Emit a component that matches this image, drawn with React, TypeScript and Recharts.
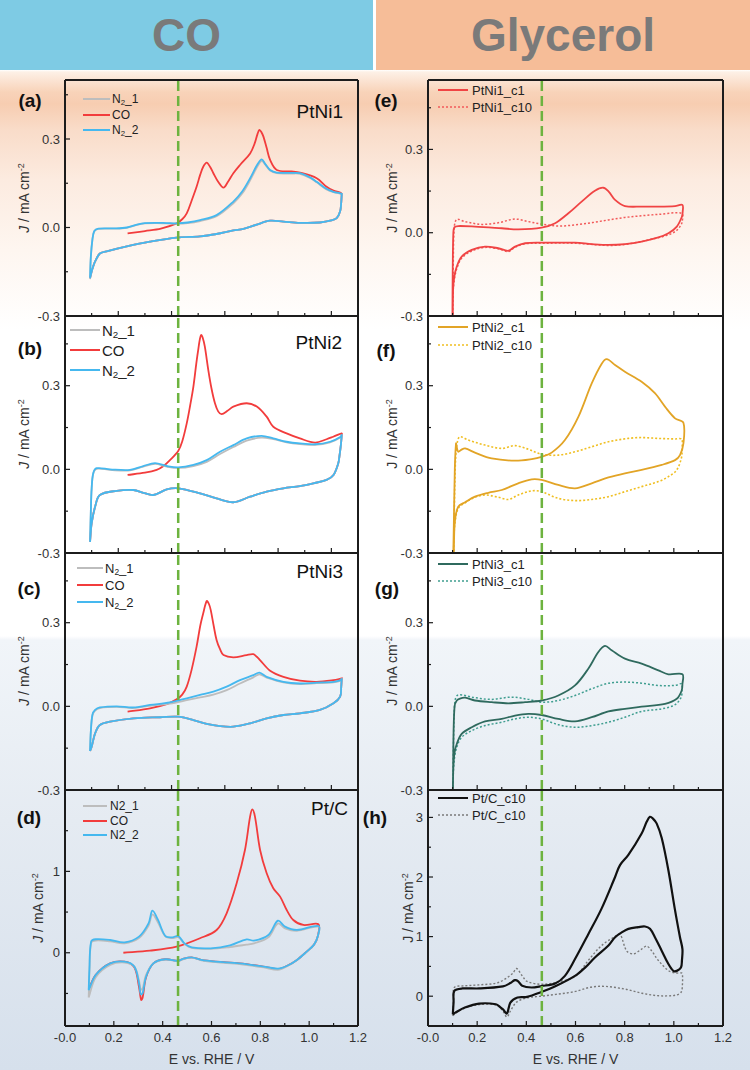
import React from "react";
import { LineChart, Line, XAxis, YAxis, ReferenceLine } from "recharts";

type Pt = [number, number];

// ---- axis ticks ----
const eTicksCO = [0.1, 0.2, 0.3, 0.4, 0.5, 0.6, 0.7, 0.8, 0.9, 1.0];
const eTicksGly = [0.1, 0.2, 0.3, 0.4, 0.5, 0.6, 0.7, 0.8, 0.9, 1.0, 1.1];
const eTicksBottom = [0, 0.1, 0.2, 0.3, 0.4, 0.5, 0.6, 0.7, 0.8, 0.9, 1.0, 1.1, 1.2];
const eLabels = [0, 0.2, 0.4, 0.6, 0.8, 1.0, 1.2];
const jTicks = [-0.3, -0.15, 0, 0.15, 0.3, 0.45];
const jLabels = [-0.3, 0, 0.3];
const jTicksPtC = [-0.5, 0, 0.5, 1, 1.5];
const jLabelsPtC = [0, 1];
const jTicksPtCGly = [0, 0.5, 1, 1.5, 2, 2.5, 3];
const jLabelsPtCGly = [0, 1, 2, 3];

// potential of the green marker (V); panels a-c run to 1.1 V
const markCO = 0.425;
const markE = 0.463;

// ---- (a) PtNi1, CO stripping ----
const aN21: Pt[] = [[0.094,-0.175],[0.097,-0.1],[0.103,-0.04],[0.11,-0.013],[0.125,-0.005],[0.18,-0.004],[0.232,-0.001],[0.27,0.009],[0.3,0.014],[0.344,0.015],[0.38,0.014],[0.42,0.013],[0.46,0.015],[0.507,0.022],[0.569,0.038],[0.632,0.082],[0.665,0.115],[0.695,0.16],[0.72,0.203],[0.738,0.226],[0.752,0.213],[0.77,0.193],[0.795,0.184],[0.85,0.183],[0.882,0.182],[0.92,0.168],[0.945,0.153],[0.98,0.13],[1.008,0.12],[1.033,0.115],[1.039,0.114]];
const aCO: Pt[] = [[0.235,-0.02],[0.3,-0.012],[0.36,-0.004],[0.419,0.014],[0.44,0.028],[0.457,0.048],[0.475,0.09],[0.494,0.138],[0.508,0.18],[0.519,0.206],[0.532,0.22],[0.545,0.205],[0.557,0.184],[0.575,0.155],[0.595,0.135],[0.612,0.155],[0.632,0.184],[0.657,0.212],[0.695,0.251],[0.712,0.285],[0.722,0.315],[0.73,0.331],[0.738,0.322],[0.745,0.308],[0.757,0.27],[0.77,0.229],[0.795,0.195],[0.85,0.19],[0.882,0.186],[0.945,0.167],[0.982,0.138],[1.008,0.125],[1.033,0.118],[1.039,0.114]];
const aN22: Pt[] = [[0.094,-0.17],[0.097,-0.1],[0.103,-0.04],[0.11,-0.012],[0.125,-0.004],[0.18,-0.003],[0.232,0.0],[0.27,0.01],[0.3,0.015],[0.344,0.016],[0.38,0.015],[0.42,0.014],[0.46,0.017],[0.507,0.025],[0.569,0.042],[0.632,0.088],[0.665,0.122],[0.695,0.167],[0.72,0.21],[0.738,0.231],[0.752,0.215],[0.77,0.195],[0.795,0.186],[0.85,0.185],[0.882,0.184],[0.92,0.17],[0.945,0.155],[0.98,0.132],[1.008,0.121],[1.033,0.116],[1.039,0.114]];
const aBack: Pt[] = [[1.039,0.114],[1.037,0.085],[1.033,0.055],[1.02,0.032],[1.0,0.024],[0.957,0.017],[0.882,0.016],[0.82,0.02],[0.77,0.023],[0.72,0.01],[0.67,-0.005],[0.632,-0.01],[0.569,-0.022],[0.507,-0.03],[0.419,-0.034],[0.319,-0.048],[0.232,-0.064],[0.16,-0.08],[0.131,-0.088],[0.113,-0.115],[0.103,-0.14],[0.097,-0.16],[0.094,-0.172]];

// ---- (b) PtNi2 ----
const bN21: Pt[] = [[0.094,-0.26],[0.097,-0.15],[0.1,-0.07],[0.106,-0.016],[0.119,0.002],[0.169,-0.002],[0.244,-0.004],[0.294,0.01],[0.338,0.02],[0.382,0.01],[0.425,0.005],[0.482,0.012],[0.532,0.027],[0.582,0.055],[0.632,0.08],[0.682,0.103],[0.738,0.114],[0.782,0.108],[0.832,0.097],[0.882,0.091],[0.939,0.088],[0.995,0.097],[1.035,0.115],[1.039,0.125]];
const bCO: Pt[] = [[0.235,-0.02],[0.3,-0.012],[0.344,-0.002],[0.37,0.012],[0.394,0.033],[0.425,0.066],[0.44,0.1],[0.457,0.165],[0.47,0.23],[0.482,0.297],[0.493,0.38],[0.5,0.428],[0.506,0.465],[0.511,0.482],[0.517,0.472],[0.525,0.44],[0.538,0.356],[0.55,0.29],[0.563,0.237],[0.575,0.208],[0.588,0.198],[0.61,0.21],[0.632,0.225],[0.682,0.237],[0.72,0.225],[0.757,0.189],[0.782,0.153],[0.832,0.129],[0.882,0.111],[0.939,0.096],[0.982,0.108],[1.007,0.117],[1.039,0.129]];
const bN22: Pt[] = [[0.094,-0.26],[0.097,-0.15],[0.1,-0.07],[0.106,-0.014],[0.119,0.004],[0.169,0.0],[0.244,-0.002],[0.294,0.012],[0.338,0.022],[0.382,0.012],[0.425,0.007],[0.482,0.016],[0.532,0.033],[0.582,0.063],[0.632,0.087],[0.682,0.111],[0.738,0.12],[0.782,0.111],[0.832,0.099],[0.882,0.093],[0.939,0.09],[0.995,0.099],[1.035,0.117],[1.039,0.125]];
const bBack: Pt[] = [[1.039,0.125],[1.036,0.09],[1.03,0.045],[1.026,0.022],[1.008,-0.02],[0.982,-0.038],[0.932,-0.05],[0.882,-0.06],[0.82,-0.068],[0.757,-0.08],[0.695,-0.098],[0.632,-0.118],[0.569,-0.104],[0.507,-0.086],[0.425,-0.068],[0.382,-0.072],[0.332,-0.092],[0.294,-0.084],[0.257,-0.074],[0.194,-0.077],[0.131,-0.092],[0.113,-0.134],[0.1,-0.194],[0.094,-0.26]];

// ---- (c) PtNi3 ----
const cN21: Pt[] = [[0.094,-0.16],[0.097,-0.09],[0.103,-0.032],[0.113,-0.015],[0.131,-0.006],[0.194,-0.002],[0.257,-0.006],[0.319,0.002],[0.394,0.01],[0.457,0.022],[0.507,0.032],[0.557,0.042],[0.607,0.058],[0.657,0.082],[0.707,0.104],[0.73,0.115],[0.757,0.103],[0.82,0.086],[0.882,0.08],[0.945,0.083],[1.008,0.086],[1.035,0.092],[1.039,0.1]];
const cCO: Pt[] = [[0.235,-0.019],[0.319,-0.007],[0.382,0.008],[0.419,0.025],[0.44,0.042],[0.457,0.071],[0.475,0.13],[0.494,0.214],[0.508,0.29],[0.519,0.334],[0.532,0.378],[0.54,0.368],[0.547,0.346],[0.558,0.29],[0.569,0.238],[0.582,0.205],[0.595,0.184],[0.632,0.176],[0.682,0.184],[0.707,0.187],[0.72,0.178],[0.732,0.166],[0.77,0.128],[0.82,0.106],[0.882,0.092],[0.945,0.088],[1.008,0.094],[1.039,0.1]];
const cN22: Pt[] = [[0.094,-0.16],[0.097,-0.09],[0.103,-0.03],[0.113,-0.013],[0.131,-0.004],[0.194,0.0],[0.257,-0.004],[0.319,0.005],[0.394,0.014],[0.457,0.029],[0.507,0.041],[0.557,0.053],[0.607,0.071],[0.657,0.094],[0.707,0.112],[0.73,0.121],[0.757,0.106],[0.82,0.088],[0.882,0.082],[0.945,0.085],[1.008,0.088],[1.035,0.094],[1.039,0.1]];
const cBack: Pt[] = [[1.039,0.1],[1.037,0.07],[1.033,0.035],[1.008,0.011],[0.957,-0.013],[0.882,-0.025],[0.82,-0.031],[0.757,-0.043],[0.695,-0.061],[0.632,-0.073],[0.582,-0.071],[0.532,-0.063],[0.482,-0.049],[0.425,-0.037],[0.357,-0.039],[0.257,-0.043],[0.169,-0.055],[0.131,-0.067],[0.113,-0.097],[0.1,-0.145],[0.094,-0.16]];

// ---- (d) Pt/C ----
const dN21: Pt[] = [[0.097,-0.55],[0.1,-0.25],[0.107,0.12],[0.126,0.15],[0.185,0.14],[0.244,0.115],[0.303,0.18],[0.342,0.33],[0.358,0.47],[0.381,0.37],[0.411,0.2],[0.44,0.18],[0.464,0.19],[0.489,0.11],[0.519,0.06],[0.597,0.048],[0.676,0.07],[0.744,0.1],[0.774,0.115],[0.833,0.19],[0.872,0.36],[0.901,0.3],[0.95,0.27],[1.039,0.32],[1.035,0.2],[1.02,0.1],[0.99,0.01],[0.95,-0.09],[0.91,-0.165],[0.872,-0.21],[0.814,-0.18],[0.715,-0.14],[0.617,-0.115],[0.558,-0.092],[0.518,-0.06],[0.479,-0.085],[0.464,-0.105],[0.411,-0.085],[0.362,-0.13],[0.332,-0.27],[0.318,-0.44],[0.31,-0.45],[0.303,-0.34],[0.284,-0.17],[0.244,-0.12],[0.185,-0.15],[0.126,-0.3],[0.097,-0.55]];
const dCO: Pt[] = [[0.239,0.0],[0.348,0.026],[0.457,0.075],[0.553,0.178],[0.621,0.28],[0.662,0.485],[0.703,0.853],[0.737,1.263],[0.758,1.672],[0.767,1.762],[0.778,1.672],[0.799,1.263],[0.826,0.976],[0.853,0.792],[0.881,0.69],[0.908,0.526],[0.935,0.403],[0.976,0.342],[1.038,0.35],[1.035,0.2],[1.02,0.1],[0.99,0.014],[0.95,-0.088],[0.91,-0.16],[0.872,-0.2],[0.814,-0.17],[0.715,-0.13],[0.617,-0.109],[0.558,-0.088],[0.518,-0.056],[0.479,-0.08],[0.464,-0.1],[0.411,-0.08],[0.362,-0.13],[0.332,-0.3],[0.318,-0.55],[0.312,-0.58],[0.303,-0.42],[0.284,-0.18],[0.244,-0.11],[0.185,-0.13],[0.126,-0.27],[0.097,-0.45]];
const dN22: Pt[] = [[0.097,-0.46],[0.1,-0.2],[0.107,0.137],[0.126,0.166],[0.185,0.157],[0.244,0.128],[0.303,0.198],[0.342,0.361],[0.358,0.517],[0.381,0.403],[0.411,0.206],[0.44,0.19],[0.464,0.206],[0.489,0.116],[0.519,0.067],[0.597,0.055],[0.676,0.091],[0.744,0.165],[0.774,0.149],[0.833,0.219],[0.872,0.395],[0.901,0.321],[0.95,0.28],[1.039,0.329],[1.035,0.2],[1.02,0.1],[0.99,0.014],[0.95,-0.088],[0.91,-0.16],[0.872,-0.195],[0.814,-0.17],[0.715,-0.13],[0.617,-0.109],[0.558,-0.088],[0.518,-0.056],[0.479,-0.08],[0.464,-0.1],[0.411,-0.08],[0.362,-0.13],[0.332,-0.294],[0.318,-0.498],[0.31,-0.51],[0.303,-0.375],[0.284,-0.17],[0.244,-0.109],[0.185,-0.13],[0.126,-0.272],[0.097,-0.46]];

// ---- (e) PtNi1, glycerol ----
const eC1: Pt[] = [[0.099,-0.45],[0.1,-0.2],[0.103,0.0],[0.108,0.02],[0.123,0.024],[0.191,0.022],[0.3,0.016],[0.367,0.012],[0.462,0.018],[0.517,0.034],[0.571,0.07],[0.625,0.112],[0.679,0.151],[0.713,0.162],[0.735,0.148],[0.761,0.118],[0.801,0.096],[0.869,0.094],[0.94,0.094],[1.005,0.096],[1.035,0.1],[1.036,0.075],[1.033,0.058],[1.012,0.022],[0.978,-0.002],[0.937,-0.017],[0.869,-0.032],[0.801,-0.041],[0.734,-0.044],[0.666,-0.041],[0.598,-0.036],[0.462,-0.036],[0.395,-0.038],[0.354,-0.05],[0.327,-0.065],[0.286,-0.056],[0.232,-0.05],[0.178,-0.062],[0.137,-0.086],[0.117,-0.122],[0.107,-0.158],[0.102,-0.206],[0.1,-0.45]];
const eC10: Pt[] = [[0.1,-0.45],[0.103,-0.1],[0.107,0.02],[0.117,0.048],[0.15,0.04],[0.218,0.03],[0.286,0.036],[0.354,0.049],[0.408,0.04],[0.462,0.031],[0.53,0.024],[0.598,0.028],[0.666,0.036],[0.734,0.046],[0.801,0.055],[0.869,0.061],[0.937,0.066],[1.032,0.07],[1.034,0.04],[1.025,0.022],[1.005,0.004],[0.964,-0.012],[0.9,-0.025],[0.869,-0.032],[0.801,-0.042],[0.734,-0.046],[0.598,-0.038],[0.462,-0.038],[0.395,-0.04],[0.354,-0.052],[0.327,-0.068],[0.286,-0.058],[0.232,-0.053],[0.178,-0.066],[0.137,-0.092],[0.117,-0.13],[0.107,-0.17],[0.102,-0.22],[0.1,-0.45]];

// ---- (f) PtNi2 ----
const fC1: Pt[] = [[0.1,-0.45],[0.105,-0.2],[0.109,0.0],[0.114,0.093],[0.117,0.08],[0.123,0.063],[0.135,0.07],[0.151,0.075],[0.191,0.06],[0.259,0.039],[0.354,0.031],[0.422,0.037],[0.462,0.045],[0.503,0.06],[0.557,0.105],[0.612,0.189],[0.666,0.308],[0.706,0.378],[0.727,0.395],[0.761,0.374],[0.801,0.35],[0.869,0.314],[0.923,0.273],[0.964,0.225],[1.005,0.183],[1.039,0.167],[1.039,0.093],[1.025,0.051],[1.005,0.033],[0.951,0.016],[0.869,-0.002],[0.801,-0.014],[0.734,-0.029],[0.666,-0.05],[0.598,-0.068],[0.53,-0.056],[0.462,-0.038],[0.422,-0.036],[0.367,-0.05],[0.3,-0.074],[0.245,-0.084],[0.191,-0.098],[0.151,-0.118],[0.123,-0.134],[0.11,-0.182],[0.106,-0.253],[0.103,-0.45]];
const fC10: Pt[] = [[0.103,-0.45],[0.108,-0.1],[0.113,0.05],[0.12,0.1],[0.13,0.117],[0.164,0.105],[0.232,0.087],[0.3,0.075],[0.354,0.085],[0.408,0.072],[0.462,0.054],[0.53,0.051],[0.598,0.063],[0.666,0.081],[0.734,0.099],[0.815,0.111],[0.869,0.114],[0.937,0.111],[1.005,0.109],[1.032,0.108],[1.033,0.07],[1.032,0.045],[1.012,-0.002],[0.978,-0.026],[0.937,-0.044],[0.869,-0.062],[0.801,-0.08],[0.734,-0.098],[0.666,-0.108],[0.598,-0.112],[0.53,-0.104],[0.462,-0.08],[0.422,-0.077],[0.367,-0.092],[0.327,-0.108],[0.286,-0.1],[0.232,-0.092],[0.191,-0.1],[0.151,-0.12],[0.123,-0.14],[0.11,-0.19],[0.105,-0.26],[0.103,-0.45]];

// ---- (g) PtNi3 ----
const gC1: Pt[] = [[0.1,-0.45],[0.103,-0.15],[0.108,0.0],[0.117,0.021],[0.13,0.028],[0.151,0.031],[0.191,0.021],[0.259,0.015],[0.327,0.011],[0.395,0.015],[0.462,0.021],[0.53,0.039],[0.598,0.075],[0.652,0.135],[0.693,0.195],[0.72,0.217],[0.747,0.201],[0.801,0.171],[0.869,0.153],[0.937,0.129],[0.978,0.115],[1.035,0.115],[1.035,0.08],[1.032,0.057],[1.012,0.027],[0.964,0.009],[0.869,-0.001],[0.801,-0.009],[0.734,-0.018],[0.666,-0.039],[0.598,-0.054],[0.53,-0.045],[0.462,-0.031],[0.408,-0.027],[0.354,-0.033],[0.3,-0.045],[0.232,-0.054],[0.178,-0.075],[0.137,-0.099],[0.117,-0.135],[0.107,-0.171],[0.102,-0.25],[0.1,-0.45]];
const gC10: Pt[] = [[0.1,-0.45],[0.104,-0.12],[0.11,0.02],[0.123,0.041],[0.191,0.031],[0.259,0.025],[0.34,0.033],[0.408,0.025],[0.462,0.015],[0.53,0.021],[0.598,0.039],[0.666,0.063],[0.734,0.083],[0.801,0.087],[0.869,0.083],[0.937,0.075],[1.005,0.075],[1.032,0.081],[1.033,0.06],[1.03,0.033],[1.005,0.006],[0.951,-0.009],[0.869,-0.018],[0.801,-0.039],[0.734,-0.057],[0.666,-0.069],[0.598,-0.075],[0.53,-0.066],[0.462,-0.045],[0.408,-0.039],[0.354,-0.045],[0.3,-0.057],[0.232,-0.069],[0.178,-0.087],[0.137,-0.111],[0.117,-0.147],[0.107,-0.19],[0.102,-0.27],[0.1,-0.45]];

// ---- (h) Pt/C ----
const hC1: Pt[] = [[0.101,-0.304],[0.104,-0.1],[0.107,0.09],[0.14,0.13],[0.208,0.13],[0.305,0.165],[0.335,0.22],[0.353,0.27],[0.367,0.25],[0.383,0.174],[0.421,0.146],[0.462,0.17],[0.517,0.213],[0.557,0.342],[0.598,0.623],[0.652,1.04],[0.706,1.47],[0.761,2.0],[0.781,2.2],[0.815,2.37],[0.869,2.73],[0.89,2.93],[0.903,3.01],[0.915,2.98],[0.93,2.9],[0.951,2.65],[0.978,2.11],[1.005,1.44],[1.025,0.99],[1.035,0.79],[1.033,0.6],[1.029,0.48],[1.012,0.425],[0.998,0.425],[0.978,0.54],[0.951,0.76],[0.923,0.99],[0.903,1.13],[0.883,1.17],[0.856,1.16],[0.815,1.13],[0.788,1.07],[0.761,0.99],[0.734,0.85],[0.679,0.65],[0.639,0.48],[0.598,0.34],[0.52,0.17],[0.461,0.07],[0.403,-0.012],[0.364,-0.023],[0.335,-0.107],[0.321,-0.29],[0.305,-0.22],[0.296,-0.19],[0.276,-0.135],[0.208,-0.124],[0.15,-0.19],[0.111,-0.276],[0.101,-0.304]];
const hC10: Pt[] = [[0.101,-0.33],[0.104,-0.05],[0.107,0.146],[0.15,0.174],[0.208,0.19],[0.286,0.23],[0.344,0.38],[0.36,0.465],[0.383,0.343],[0.403,0.247],[0.461,0.2],[0.52,0.23],[0.598,0.33],[0.652,0.6],[0.706,0.85],[0.76,1.0],[0.781,1.04],[0.808,0.76],[0.835,0.71],[0.869,0.79],[0.89,0.84],[0.91,0.76],[0.937,0.6],[0.978,0.43],[1.005,0.39],[1.032,0.39],[1.035,0.37],[1.035,0.2],[1.03,0.07],[1.01,0.02],[0.97,0.005],[0.93,0.01],[0.87,0.05],[0.8,0.12],[0.72,0.165],[0.66,0.15],[0.6,0.08],[0.52,0.03],[0.46,0.0],[0.4,-0.03],[0.36,-0.1],[0.335,-0.25],[0.321,-0.35],[0.305,-0.25],[0.28,-0.15],[0.21,-0.14],[0.15,-0.2],[0.111,-0.29],[0.101,-0.33]];

const FONT = '"Liberation Sans", Arial, Helvetica, sans-serif';
const AXIS = "#1c1c1c";
const GREEN = "#6db33f";
const GRAY = "#bdbdbd";
const RED = "#f23c3c";
const BLUE = "#45b8ef";

const COLS = [
  { x0: 0, plotLeft: 65, plotRight: 358 },
  { x0: 375, plotLeft: 53, plotRight: 348 },
];

const near = (arr: number[], v: number) => arr.some((a) => Math.abs(a - v) < 1e-6);
const toXY = (pts: Pt[]) => pts.map(([x, y]) => ({ x, y }));

// smooth curve through the points (chord-weighted Catmull-Rom), for the CV loops
const smoothCurve = (context: any) => {
  let pts: number[][] = [];
  return {
    areaStart() {},
    areaEnd() {},
    lineStart() {
      pts = [];
    },
    point(x: number, y: number) {
      pts.push([+x, +y]);
    },
    lineEnd() {
      if (!pts.length) return;
      const d = (a: number[], b: number[]) => Math.hypot(b[0] - a[0], b[1] - a[1]) || 1e-6;
      context.moveTo(pts[0][0], pts[0][1]);
      for (let i = 0; i < pts.length - 1; i++) {
        const p0 = pts[i - 1] || pts[i];
        const p1 = pts[i];
        const p2 = pts[i + 1];
        const p3 = pts[i + 2] || p2;
        const d01 = d(p0, p1), d12 = d(p1, p2), d23 = d(p2, p3);
        const k1 = d12 / (d01 + d12) / 3;
        const k2 = d12 / (d12 + d23) / 3;
        context.bezierCurveTo(
          p1[0] + (p2[0] - p0[0]) * k1,
          p1[1] + (p2[1] - p0[1]) * k1,
          p2[0] - (p3[0] - p1[0]) * k2,
          p2[1] - (p3[1] - p1[1]) * k2,
          p2[0],
          p2[1]
        );
      }
    },
  };
};

interface Series {
  pts: Pt[];
  color: string;
  dotted?: boolean;
  width?: number;
}

interface PanelProps {
  col: number;
  top: number;
  bottom: number;
  eMax: number;
  jMin: number;
  jMax: number;
  eTicks: number[];
  yTicks: number[];
  yLabels: number[];
  digits: number;
  mark: number;
  series: Series[];
  last?: boolean;
}

function Panel({ col, top, bottom, eMax, jMin, jMax, eTicks, yTicks, yLabels, digits, mark, series, last }: PanelProps) {
  const { x0, plotLeft, plotRight } = COLS[col];
  const padT = 10;
  const axisH = last ? 44 : 1;
  const padB = last ? 0 : 10;
  const height = padT + (bottom - top) + axisH + padB;

  const yTick = (p: any) => {
    const v = p.payload.value;
    const lab = near(yLabels, v);
    return (
      <g>
        <line x1={p.x} x2={p.x + (lab ? 5 : 3)} y1={p.y} y2={p.y} stroke={AXIS} strokeWidth={1.2} />
        {lab && (
          <text x={p.x - 5} y={p.y} textAnchor="end" dominantBaseline="central" fontSize={13} fill="#333">
            {v.toFixed(digits)}
          </text>
        )}
      </g>
    );
  };

  const xTick = (p: any) => {
    const v = p.payload.value;
    const major = near(eLabels, v);
    return (
      <g>
        <line x1={p.x} x2={p.x} y1={p.y} y2={p.y - (major ? 5 : 3)} stroke={AXIS} strokeWidth={1.2} />
        {last && major && (
          <text x={p.x} y={p.y + 16} textAnchor="middle" fontSize={13} fill="#333">
            {v === 0 ? "-0.0" : v.toFixed(1)}
          </text>
        )}
      </g>
    );
  };

  return (
    <div style={{ position: "absolute", left: x0, top: top - padT }}>
      <LineChart width={375} height={height} margin={{ top: padT, right: 375 - plotRight, bottom: padB, left: 0 }}>
        <XAxis
          type="number"
          dataKey="x"
          domain={[0, eMax]}
          ticks={eTicks}
          interval={0}
          height={axisH}
          tickSize={0}
          tickMargin={0}
          tickLine={false}
          tick={xTick}
          axisLine={{ stroke: AXIS, strokeWidth: 2 }}
          allowDataOverflow
          label={last ? { value: "E vs. RHE / V", position: "insideBottom", offset: 6, fontSize: 14, fill: "#333" } : undefined}
        />
        <YAxis
          type="number"
          domain={[jMin, jMax]}
          ticks={yTicks}
          interval={0}
          width={plotLeft}
          tickSize={0}
          tickMargin={0}
          tickLine={false}
          tick={yTick}
          axisLine={{ stroke: AXIS, strokeWidth: 2 }}
          allowDataOverflow
        />
        <ReferenceLine y={jMax} stroke={AXIS} strokeWidth={2} />
        <ReferenceLine x={eMax} stroke={AXIS} strokeWidth={2} />
        {series.map((s, i) => (
          <Line
            key={i}
            data={toXY(s.pts)}
            dataKey="y"
            type={smoothCurve as any}
            stroke={s.color}
            strokeWidth={s.width ?? 1.8}
            strokeDasharray={s.dotted ? "2 2" : undefined}
            dot={false}
            activeDot={false}
            isAnimationActive={false}
          />
        ))}
        <ReferenceLine x={mark} stroke={GREEN} strokeWidth={2.5} strokeDasharray="10 5" />
      </LineChart>
    </div>
  );
}

interface LegendItem {
  label: React.ReactNode;
  color: string;
  dotted?: boolean;
}

function Legend({ items, x1, x2, tx, y, gap, size }: { items: LegendItem[]; x1: number; x2: number; tx: number; y: number; gap: number; size: number }) {
  return (
    <>
      {items.map((it, i) => {
        const cy = y + i * gap;
        return (
          <React.Fragment key={i}>
            <svg style={{ position: "absolute", left: x1, top: cy - 3 }} width={x2 - x1} height={6}>
              <line x1={0} x2={x2 - x1} y1={3} y2={3} stroke={it.color} strokeWidth={it.dotted ? 1.5 : 2} strokeDasharray={it.dotted ? "2 2" : undefined} />
            </svg>
            <div style={{ position: "absolute", left: tx, top: cy, transform: "translateY(-50%)", fontSize: size, lineHeight: 1, color: "#222", whiteSpace: "nowrap" }}>
              {it.label}
            </div>
          </React.Fragment>
        );
      })}
    </>
  );
}

const Sub = ({ children }: { children: React.ReactNode }) => (
  <sub style={{ fontSize: "0.65em", verticalAlign: "-0.3em", lineHeight: 0 }}>{children}</sub>
);

const n2Items: LegendItem[] = [
  { label: <>N<Sub>2</Sub>_1</>, color: GRAY },
  { label: "CO", color: RED },
  { label: <>N<Sub>2</Sub>_2</>, color: BLUE },
];

const Tag = ({ x, y, text }: { x: number; y: number; text: string }) => (
  <div style={{ position: "absolute", left: x, top: y, transform: "translate(-50%,-50%)", fontSize: 19, fontWeight: 700, color: "#111", lineHeight: 1 }}>
    {text}
  </div>
);

const Name = ({ right, y, text }: { right: number; y: number; text: string }) => (
  <div style={{ position: "absolute", right: 750 - right, top: y, transform: "translateY(-50%)", fontSize: 19, color: "#111", lineHeight: 1 }}>
    {text}
  </div>
);

const YTitle = ({ x, y, italic }: { x: number; y: number; italic?: boolean }) => (
  <div
    style={{
      position: "absolute",
      left: x,
      top: y,
      transform: "translate(-50%,-50%) rotate(-90deg)",
      fontSize: 14,
      color: "#333",
      whiteSpace: "nowrap",
      lineHeight: 1,
    }}
  >
    <span style={{ fontStyle: italic ? "italic" : "normal" }}>J</span> / mA cm
    <sup style={{ fontSize: "0.65em", verticalAlign: "0.6em", lineHeight: 0 }}>-2</sup>
  </div>
);

const BG =
  "linear-gradient(180deg, #ffffff 0px, #ffffff 70px, #fdf0e6 72px, #f8d3b9 92px, #f7cdb1 104px, #f9dcc9 130px, #fcebe0 180px, #fef6f0 250px, #ffffff 330px, #ffffff 636px, #f1f5f9 640px, #e5ebf2 820px, #d6e0ec 1070px)";

const headStyle: React.CSSProperties = {
  position: "absolute",
  top: 0,
  height: 70,
  display: "flex",
  alignItems: "center",
  justifyContent: "center",
  fontSize: 46,
  fontWeight: 700,
  color: "#7a7a7a",
};

export default function App() {
  return (
    <div style={{ position: "absolute", left: 0, top: 0, width: 750, height: 1070, overflow: "hidden", fontFamily: FONT, background: BG }}>
      <div style={{ ...headStyle, left: 0, width: 373, background: "#7ecbe4" }}>CO</div>
      <div style={{ ...headStyle, left: 376, width: 374, background: "#f6bd98" }}>Glycerol</div>

      {/* CO stripping column */}
      <Panel col={0} top={80} bottom={316} eMax={1.1} jMin={-0.3} jMax={0.5} eTicks={eTicksCO} yTicks={jTicks} yLabels={jLabels} digits={1} mark={markCO}
        series={[{ pts: [...aCO, ...aBack], color: RED }, { pts: [...aN21, ...aBack], color: GRAY }, { pts: [...aN22, ...aBack], color: BLUE }]} />
      <Panel col={0} top={316} bottom={553} eMax={1.1} jMin={-0.3} jMax={0.55} eTicks={eTicksCO} yTicks={jTicks} yLabels={jLabels} digits={1} mark={markCO}
        series={[{ pts: [...bCO, ...bBack], color: RED }, { pts: [...bN21, ...bBack], color: GRAY }, { pts: [...bN22, ...bBack], color: BLUE }]} />
      <Panel col={0} top={553} bottom={790} eMax={1.1} jMin={-0.3} jMax={0.55} eTicks={eTicksCO} yTicks={jTicks} yLabels={jLabels} digits={1} mark={markCO}
        series={[{ pts: [...cCO, ...cBack], color: RED }, { pts: [...cN21, ...cBack], color: GRAY }, { pts: [...cN22, ...cBack], color: BLUE }]} />
      <Panel col={0} top={790} bottom={1026} eMax={1.2} jMin={-0.9} jMax={2.0} eTicks={eTicksBottom} yTicks={jTicksPtC} yLabels={jLabelsPtC} digits={0} mark={markE} last
        series={[{ pts: dCO, color: RED }, { pts: dN21, color: GRAY }, { pts: dN22, color: BLUE }]} />

      {/* glycerol column */}
      <Panel col={1} top={80} bottom={316} eMax={1.2} jMin={-0.3} jMax={0.55} eTicks={eTicksGly} yTicks={jTicks} yLabels={jLabels} digits={1} mark={markE}
        series={[{ pts: eC10, color: "#f25a5a", dotted: true, width: 1.5 }, { pts: eC1, color: "#f04444" }]} />
      <Panel col={1} top={316} bottom={553} eMax={1.2} jMin={-0.3} jMax={0.55} eTicks={eTicksGly} yTicks={jTicks} yLabels={jLabels} digits={1} mark={markE}
        series={[{ pts: fC10, color: "#f0bf22", dotted: true, width: 1.6 }, { pts: fC1, color: "#e2a426" }]} />
      <Panel col={1} top={553} bottom={790} eMax={1.2} jMin={-0.3} jMax={0.55} eTicks={eTicksGly} yTicks={jTicks} yLabels={jLabels} digits={1} mark={markE}
        series={[{ pts: gC10, color: "#3f9e90", dotted: true, width: 1.5 }, { pts: gC1, color: "#2f6a5e" }]} />
      <Panel col={1} top={790} bottom={1026} eMax={1.2} jMin={-0.5} jMax={3.46} eTicks={eTicksBottom} yTicks={jTicksPtCGly} yLabels={jLabelsPtCGly} digits={0} mark={markE} last
        series={[{ pts: hC10, color: "#7a7a7a", dotted: true, width: 1.4 }, { pts: hC1, color: "#111111", width: 2.2 }]} />

      {/* annotations */}
      <Tag x={30} y={100} text="(a)" />
      <Tag x={30} y={348} text="(b)" />
      <Tag x={29} y={588} text="(c)" />
      <Tag x={29} y={817} text="(d)" />
      <Tag x={386} y={100} text="(e)" />
      <Tag x={386} y={350} text="(f)" />
      <Tag x={387} y={588} text="(g)" />
      <Tag x={375} y={817} text="(h)" />

      <Name right={343} y={111} text="PtNi1" />
      <Name right={342} y={342} text="PtNi2" />
      <Name right={343} y={571} text="PtNi3" />
      <Name right={348} y={808} text="Pt/C" />

      <YTitle x={24} y={198} italic />
      <YTitle x={24} y={434} italic />
      <YTitle x={24} y={671} italic />
      <YTitle x={38} y={908} italic />
      <YTitle x={392} y={198} />
      <YTitle x={392} y={434} />
      <YTitle x={392} y={671} />
      <YTitle x={408} y={908} />

      <Legend items={n2Items} x1={83} x2={110} tx={112} y={99} gap={15.5} size={12} />
      <Legend items={n2Items} x1={70} x2={100} tx={102} y={330} gap={20} size={15} />
      <Legend items={n2Items} x1={77} x2={103} tx={105} y={568} gap={17} size={13} />
      <Legend
        items={[{ label: "N2_1", color: GRAY }, { label: "CO", color: RED }, { label: "N2_2", color: BLUE }]}
        x1={83} x2={107} tx={110} y={806} gap={14.5} size={12}
      />
      <Legend items={[{ label: "PtNi1_c1", color: "#f04444" }, { label: "PtNi1_c10", color: "#f25a5a", dotted: true }]} x1={438} x2={468} tx={472} y={90} gap={17} size={13} />
      <Legend items={[{ label: "PtNi2_c1", color: "#e2a426" }, { label: "PtNi2_c10", color: "#f0bf22", dotted: true }]} x1={438} x2={468} tx={472} y={327} gap={18} size={13} />
      <Legend items={[{ label: "PtNi3_c1", color: "#2f6a5e" }, { label: "PtNi3_c10", color: "#3f9e90", dotted: true }]} x1={438} x2={468} tx={472} y={564} gap={16.5} size={13} />
      <Legend items={[{ label: "Pt/C_c10", color: "#111111" }, { label: "Pt/C_c10", color: "#7a7a7a", dotted: true }]} x1={438} x2={468} tx={472} y={798} gap={17} size={13} />
    </div>
  );
}
